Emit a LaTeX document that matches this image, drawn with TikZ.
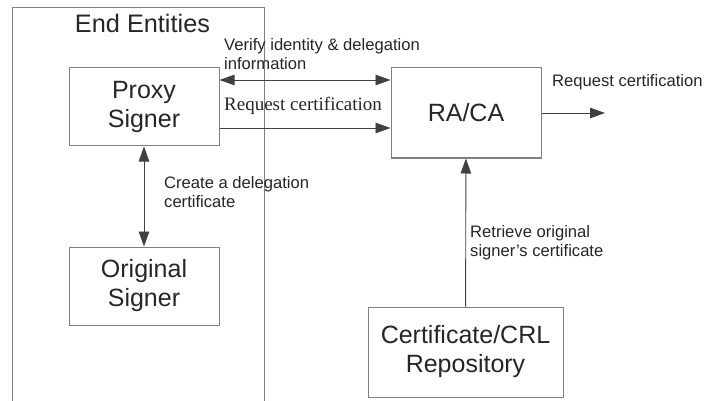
\documentclass[tikz,border=0pt]{standalone}
\usepackage{fontspec}
\setmainfont{Liberation Sans}
\newfontfamily\timesfont{Liberation Serif}
\usetikzlibrary{arrows.meta}
\begin{document}
\begin{tikzpicture}[x=1pt,y=-1pt]
    \tikzstyle{entity}=[draw=black!50,line width=1pt,rectangle,inner sep=0pt,align=center,text=black!85,font=\fontsize{25}{29}\selectfont]
    \tikzstyle{note}=[inner sep=0pt,anchor=north west,align=left,text=black!85,font=\fontsize{16.6}{19}\selectfont]
    \tikzstyle{flow}=[draw=black!75,line width=0.9pt,-{Triangle[length=15pt,width=10.5pt]}]
    \tikzstyle{both}=[flow,{Triangle[length=15pt,width=10.5pt]}-{Triangle[length=15pt,width=10.5pt]}]

    \useasboundingbox[fill=white] (0,0) rectangle (704,401);

    % end entities frame (open at the bottom)
    \draw[draw=black!50,line width=1pt] (12.5,401) -- (12.5,8) -- (264,8) -- (264,401);
    \node[inner sep=0pt,anchor=base,text=black!85,font=\fontsize{25.3}{29}\selectfont] at (142.5,33) (title) {End Entities};

    \node[entity,minimum width=150pt,minimum height=78pt] at (144,107) (proxy) {Proxy\\Signer};
    \node[entity,minimum width=150pt,minimum height=78pt] at (144,286) (orig) {Original\\Signer};
    \node[entity,minimum width=150pt,minimum height=90pt] at (466,113) (raca) {RA/CA};
    \node[entity,minimum width=195pt,minimum height=90pt] at (465.5,352) (repo) {Certificate/CRL\\Repository};
    \coordinate (out) at (605,113);

    \draw[both] ([yshift=27pt]proxy.east) -- ([yshift=27pt]proxy.east -| raca.west);
    \draw[flow] ([yshift=-21pt]proxy.east) -- ([yshift=-21pt]proxy.east -| raca.west);
    \draw[flow] (raca.east) -- (out);
    \draw[both] (proxy) -- (orig);
    \draw[flow] (repo) -- (raca);

    \node[note] at (224,38) (verify) {Verify identity \& delegation\\information};
    \node[note,font=\timesfont\fontsize{19}{22}\selectfont] at (224,97) (req) {Request certification};
    \node[note] at (552,74) (reqout) {Request certification};
    \node[note] at (164,176) (create) {Create a delegation\\certificate};
    \node[note] at (470,225) (retrieve) {Retrieve original\\signer's certificate};
\end{tikzpicture}
\end{document}
